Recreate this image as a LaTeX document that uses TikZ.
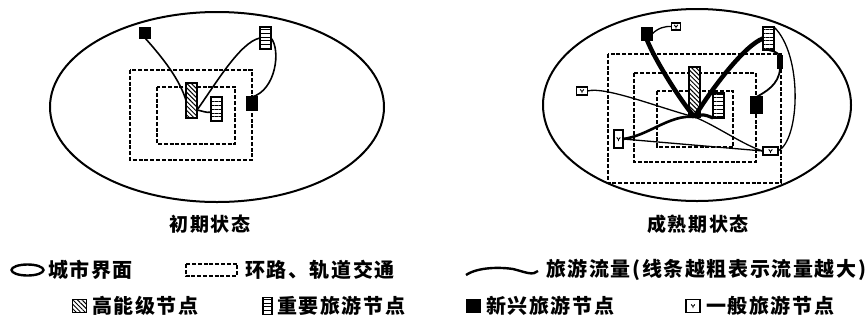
\documentclass[tikz,border=0pt]{standalone}
\usepackage{fontspec}
\newfontfamily\cjk[LetterSpace=8]{Noto Sans CJK SC}
\usetikzlibrary{patterns,patterns.meta}
\begin{document}
\begin{tikzpicture}[x=1pt,y=-1pt,
  city/.style={draw, line width=2pt},
  ring/.style={draw, line width=2.2pt, dash pattern=on 4pt off 1.8pt},
  flow/.style={draw, line width=1.6pt},
  base/.style={draw, line width=1.1pt, inner sep=0pt, outer sep=0pt},
  highnode/.style={base, preaction={fill=white}, pattern={Lines[angle=-45,distance=3.2pt,line width=1pt]}},
  impnode/.style={base, preaction={fill=white}, pattern={Lines[angle=0,distance=3.8pt,line width=1pt]}},
  newnode/.style={base, fill=black},
  gennode/.style={base, fill=white, path picture={\draw[line width=0.9pt]
      ([xshift=-1.8pt,yshift=1.5pt]path picture bounding box.center) --
      ([yshift=-0.5pt]path picture bounding box.center) --
      ([xshift=1.8pt,yshift=1.5pt]path picture bounding box.center)
      ([yshift=-0.5pt]path picture bounding box.center) -- ([yshift=-2pt]path picture bounding box.center);}},
  sz/.style 2 args={minimum width=#1pt, minimum height=#2pt},
  legtext/.style={anchor=west, inner sep=0pt, font=\cjk\bfseries\fontsize{20}{20}\selectfont},
  captext/.style={inner sep=0pt, font=\cjk\bfseries\fontsize{19}{19}\selectfont}
]
\useasboundingbox (0,0) rectangle (866,322);

% ---------- left: initial state ----------
\draw[city] (217,107) ellipse [x radius=167, y radius=95];
\draw[ring] (130,70) rectangle (252,160);
\draw[ring] (157,87) rectangle (235,144);

\node[newnode, sz={10}{10}] (Ln1) at (145,33) {};
\node[impnode, sz={11}{22}] (Li1) at (265.5,38) {};
\node[highnode, sz={11}{35}] (Lh) at (191.5,100.5) {};
\node[impnode, sz={11}{24}] (Li2) at (216.5,109) {};
\node[newnode, sz={10}{13}] (Ln2) at (252,103.5) {};

\draw[flow] (Ln1.south) .. controls (163,58) and (180,80) .. (Lh.west);
\draw[flow] (Lh.-60) .. controls (215,85) and (240,42) .. (Li1.west);
\draw[flow] (Lh.-60) .. controls (203,111) and (206,113) .. (Li2.-150);
\draw[flow] (Li1.east) .. controls (281,50) and (276,90) .. (Ln2.north);

\node[captext] (cap1) at (210,224) {初期状态};

% ---------- right: mature state ----------
\draw[city] (697,105) ellipse [x radius=154, y radius=96];
\draw[ring] (608,54) rectangle (781,183);
\draw[ring] (634,73) rectangle (756,162);
\draw[ring] (657,91) rectangle (733,147);

\node[newnode, sz={10}{12}] (Rn1) at (647,34) {};
\node[gennode, sz={9}{7}] (Rg1) at (676,26.5) {};
\node[impnode, sz={11}{23}] (Ri1) at (768.5,38.5) {};
\node[highnode, sz={11}{50}] (Rh) at (694.5,92) {};
\node[impnode, sz={11}{25}] (Ri2) at (718.5,105.5) {};
\node[newnode, sz={11}{16}] (Rn2) at (756.5,105) {};
\node[newnode, sz={5}{13}] (Rn3) at (780,62) {};
\node[gennode, sz={11}{8}] (Rg2) at (582,91) {};
\node[gennode, sz={9}{18}] (Rg3) at (618.5,139) {};
\node[gennode, sz={15}{8}] (Rg4) at (770.5,151) {};

\draw[line width=4.5pt] (Rn1.south) .. controls (655,60) and (680,100) .. (Rh.south);
\draw[line width=4.5pt] (Rh.south) .. controls (712,88) and (745,45) .. (Ri1.west);
\draw[line width=1.3pt] (Rn1.east) .. controls (658,28) and (665,26) .. (Rg1.west);
\draw[line width=1.8pt] (Ri1.south) .. controls (776,52) .. (Rn3.north);
\draw[line width=1.8pt] (Rn3.south) .. controls (779,85) and (765,92) .. (Rn2.north);
\draw[line width=1.3pt] (Ri1.north east) .. controls (803,55) and (800,140) .. (Rg4.east);
\draw[line width=1.3pt] (Rg2.east) .. controls (605,86) and (660,108) .. (Rh.south);
\draw[line width=2.6pt] (Rg3.east) .. controls (648,136) and (670,114) .. (Rh.south);
\draw[line width=1.3pt] (Rg3.east) -- (Rg4.west);
\draw[line width=1.3pt] (Rh.south) .. controls (715,125) and (745,146) .. (Rg4.west);
\draw[line width=3.2pt] (Rh.south) .. controls (703,114) .. (Ri2.south west);

\node[captext] (cap2) at (698,224) {成熟期状态};

% ---------- legend ----------
\draw[line width=2.4pt] (27.5,270) ellipse [x radius=16, y radius=5.5];
\node[legtext] (t1) at (48,270) {城市界面};
\draw[ring, line width=2.2pt] (186,264) rectangle (237,276);
\node[legtext] (t2) at (245,270) {环路、轨道交通};
\draw[line width=2.4pt] (466,275) .. controls (478,267) and (500,267) .. (513,269) .. controls (525,272) and (533,276) .. (538,271);
\node[legtext] (t3) at (546,270) {旅游流量(线条越粗表示流量越大)};

\node[highnode, sz={14}{13}] (k1) at (79.5,306) {};
\node[legtext] (t4) at (92,306) {高能级节点};
\node[impnode, sz={9}{17}] (k2) at (267.5,306) {};
\node[legtext] (t5) at (277,306) {重要旅游节点};
\node[newnode, sz={14}{13}] (k3) at (473.5,306) {};
\node[legtext] (t6) at (486,306) {新兴旅游节点};
\node[gennode, sz={14}{13}] (k4) at (693,306) {};
\node[legtext] (t7) at (706,306) {一般旅游节点};
\end{tikzpicture}
\end{document}
